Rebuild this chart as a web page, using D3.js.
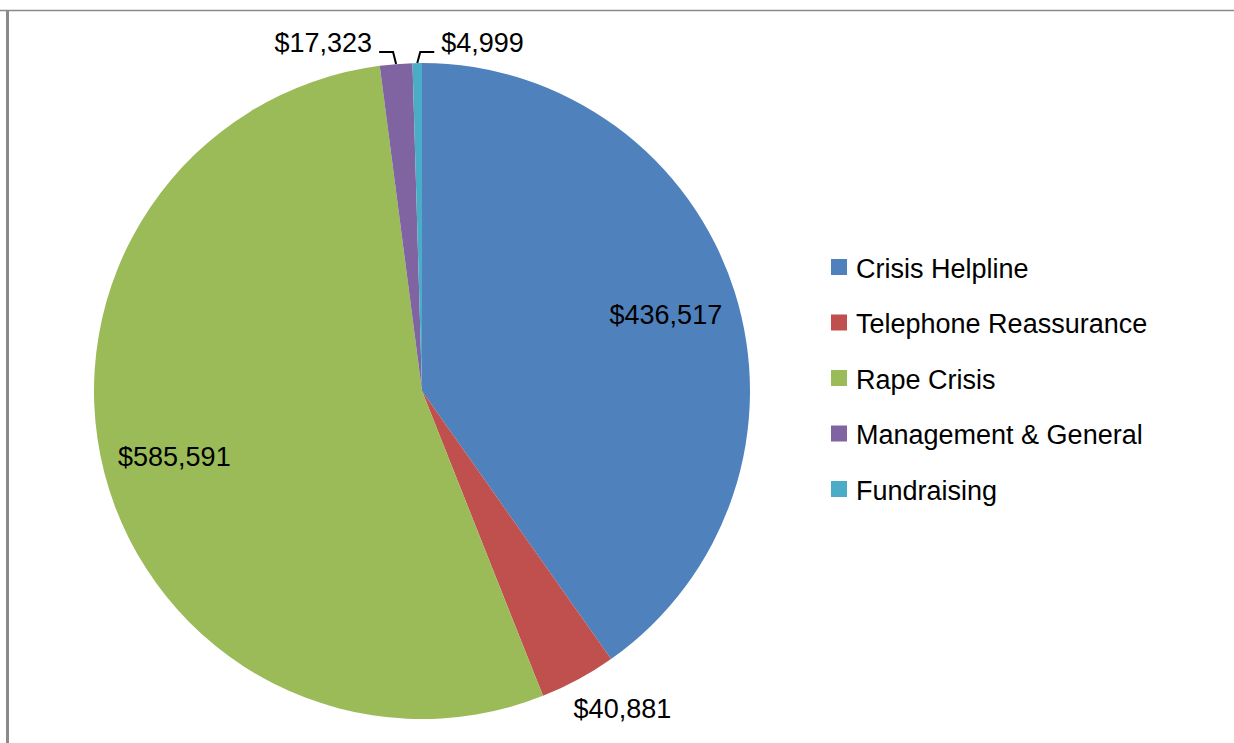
<!DOCTYPE html>
<html>
<head>
<meta charset="utf-8">
<script src="https://cdn.jsdelivr.net/npm/d3@7"></script>
<style>
  body { margin: 0; background: #fff; }
  svg { display: block; }
  text { font-family: "Liberation Sans", Arial, sans-serif; fill: #000; }
</style>
</head>
<body>
<div id="chart"></div>
<script>
// chart data
var categories = ["Crisis Helpline", "Telephone Reassurance", "Rape Crisis", "Management & General", "Fundraising"];
var amounts = [436517, 40881, 585591, 17323, 4999];
var colors = ["#4F81BD", "#C0504D", "#9BBB59", "#8064A2", "#4BACC6"];

var width = 1234, height = 743;
var cx = 422, cy = 391, radius = 328;

var svg = d3.select("#chart").append("svg")
    .attr("width", width)
    .attr("height", height);

// chart frame (left + top edge visible)
svg.append("line")
    .attr("x1", 0).attr("x2", width)
    .attr("y1", 10.5).attr("y2", 10.5)
    .attr("stroke", "#8a8a8a").attr("stroke-width", 1.5);
svg.append("line")
    .attr("x1", 7.5).attr("x2", 7.5)
    .attr("y1", 10).attr("y2", height)
    .attr("stroke", "#8a8a8a").attr("stroke-width", 3);

var data = categories.map(function(c, i) { return { name: c, value: amounts[i], color: colors[i] }; });

var pie = d3.pie().sort(null).value(function(d) { return d.value; });
var arcs = pie(data);

var arc = d3.arc().innerRadius(0).outerRadius(radius);

var g = svg.append("g").attr("transform", "translate(" + cx + "," + cy + ")");

g.selectAll("path.slice")
    .data(arcs)
    .enter().append("path")
    .attr("class", "slice")
    .attr("d", arc)
    .attr("fill", function(d) { return d.data.color; });

var fmt = function(v) { return "$" + d3.format(",")(v); };
var mid = function(d) { return (d.startAngle + d.endAngle) / 2; };
var at = function(a, r) { return [r * Math.sin(a), -r * Math.cos(a)]; };

// label placement: inside (0), outside end (1), leader line left (2) / right (3)
var labelMode = [0, 1, 0, 2, 3];
var fontSize = 27;
var leaderY = 52 - cy;

arcs.forEach(function(d, i) {
    var a = mid(d);
    var mode = labelMode[i];
    var p;
    if (mode === 0) {
        p = at(a, radius * 0.78);
        g.append("text")
            .attr("x", p[0]).attr("y", p[1] + 1)
            .attr("dy", "0.36em")
            .attr("text-anchor", "middle")
            .style("font-size", fontSize + "px")
            .text(fmt(d.data.value));
    } else if (mode === 1) {
        p = at(a, radius + 22);
        g.append("text")
            .attr("x", p[0] - 15).attr("y", p[1] + 19)
            .attr("text-anchor", "start")
            .style("font-size", fontSize + "px")
            .text(fmt(d.data.value));
    } else {
        var p0 = at(a, radius);
        var side = mode === 2 ? -1 : 1;
        var p1 = [p0[0] + side * 3, leaderY];
        var p2 = [p1[0] + side * 14, leaderY];
        g.append("polyline")
            .attr("points", [p0, p1, p2].map(function(q) { return q.join(","); }).join(" "))
            .attr("fill", "none")
            .attr("stroke", "#000")
            .attr("stroke-width", 2);
        g.append("text")
            .attr("x", p2[0] + side * 7).attr("y", p2[1])
            .attr("text-anchor", side < 0 ? "end" : "start")
            .style("font-size", fontSize + "px")
            .text(fmt(d.data.value));
    }
});

// legend
var legend = svg.append("g").attr("transform", "translate(831,267)");
var rowH = 55.5;
var items = legend.selectAll("g.item")
    .data(data)
    .enter().append("g")
    .attr("class", "item")
    .attr("transform", function(d, i) { return "translate(0," + (i * rowH) + ")"; });

items.append("rect")
    .attr("x", 0).attr("y", -8)
    .attr("width", 16).attr("height", 16)
    .attr("fill", function(d) { return d.color; });

items.append("text")
    .attr("x", 25).attr("y", 1)
    .attr("dy", "0.36em")
    .style("font-size", fontSize + "px")
    .text(function(d) { return d.name; });
</script>
</body>
</html>
